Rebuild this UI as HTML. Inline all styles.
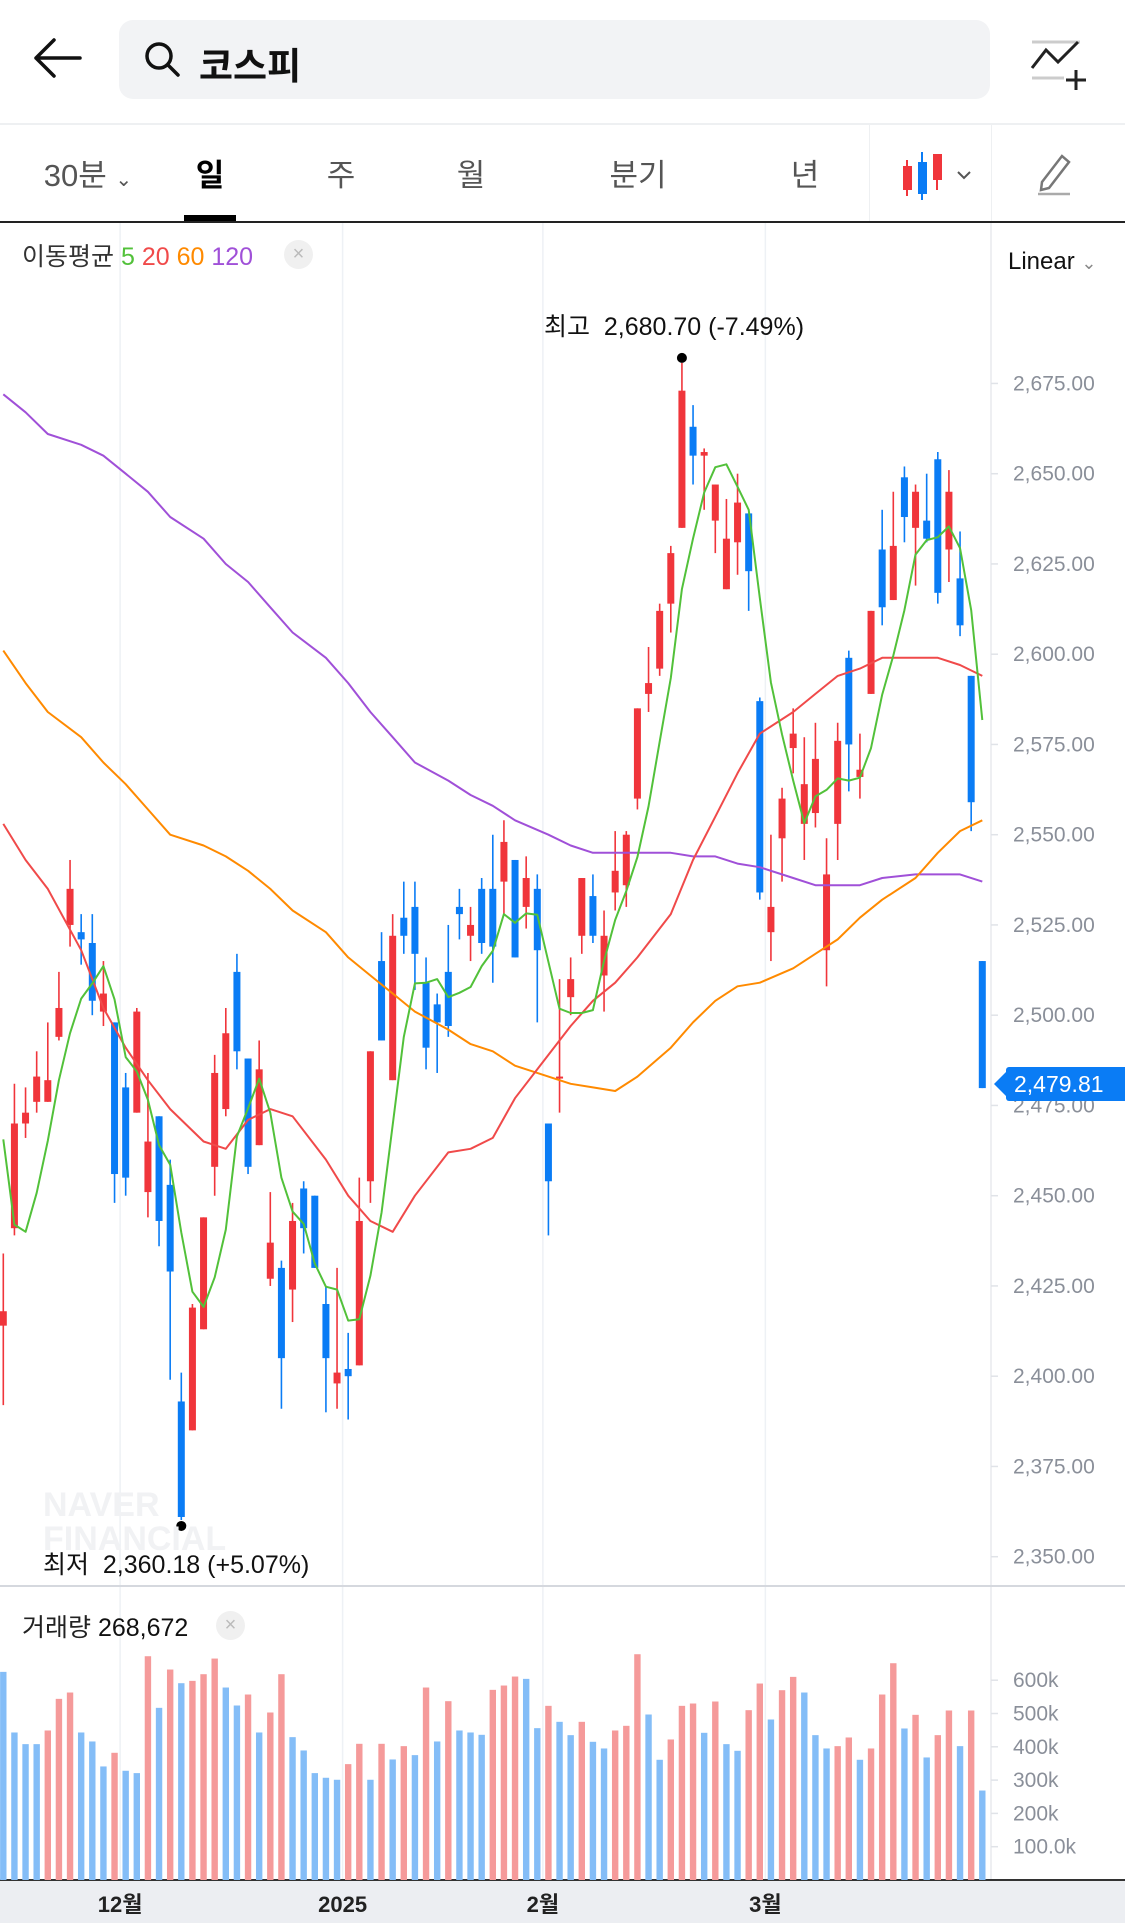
<!DOCTYPE html>
<html lang="ko"><head><meta charset="utf-8">
<style>
*{margin:0;padding:0;box-sizing:border-box}
body{width:1125px;height:1923px;background:#fff;font-family:"Liberation Sans","Noto Sans CJK KR",sans-serif;position:relative;overflow:hidden;color:#111}
.abs{position:absolute}
.tab{position:absolute;top:150px;font-size:31px;color:#555;transform:translateX(-50%)}
.ax{position:absolute;left:1013px;font-size:21px;color:#8a8f99}
</style></head><body>
<svg class="abs" style="left:30px;top:36px" width="56" height="44"><path d="M6 22H50M6 22L24 4M6 22L24 40" stroke="#111" stroke-width="3.5" fill="none" stroke-linecap="round"/></svg>
<div class="abs" style="left:119px;top:20px;width:871px;height:79px;background:#f2f3f5;border-radius:14px">
 <svg class="abs" style="left:24px;top:20px" width="40" height="40"><circle cx="16" cy="16" r="12" stroke="#111" stroke-width="3.5" fill="none"/><path d="M25 25L35 35" stroke="#111" stroke-width="3.5" stroke-linecap="round"/></svg>
 <div class="abs" style="left:80px;top:16px;font-size:37px;font-weight:bold">코스피</div>
</div>
<svg class="abs" style="left:1028px;top:36px" width="60" height="54"><path d="M4 6H52" stroke="#ccc" stroke-width="3"/><path d="M4 32L18 14L30 26L50 6" stroke="#222" stroke-width="3" fill="none"/><path d="M4 42H36" stroke="#ccc" stroke-width="3"/><path d="M48 34V54M38 44H58" stroke="#222" stroke-width="3"/></svg>
<div class="abs" style="left:0;top:123px;width:1125px;height:2px;background:#eef0f2"></div>
<div class="tab" style="left:88px">30분 <span style="font-size:20px">⌄</span></div>
<div class="tab" style="left:210px;color:#000;font-weight:bold">일</div>
<div class="abs" style="left:184px;top:215px;width:52px;height:7px;background:#000"></div>
<div class="tab" style="left:341px">주</div>
<div class="tab" style="left:471px">월</div>
<div class="tab" style="left:638px">분기</div>
<div class="tab" style="left:805px">년</div>
<div class="abs" style="left:869px;top:125px;width:1px;height:97px;background:#eef0f2"></div>
<div class="abs" style="left:991px;top:125px;width:1px;height:97px;background:#eef0f2"></div>
<svg class="abs" style="left:900px;top:150px" width="80" height="52"><path d="M7 10V46M22 2V50M37 8V40" stroke-width="2" stroke="#f0353b"/><path d="M22 2V50" stroke="#0a7cf5" stroke-width="2"/><rect x="3" y="16" width="9" height="24" fill="#f0353b"/><rect x="18" y="12" width="9" height="32" fill="#0a7cf5"/><rect x="33" y="4" width="9" height="26" fill="#f0353b"/><path d="M58 22L64 28L70 22" stroke="#555" stroke-width="2" fill="none"/></svg>
<svg class="abs" style="left:1034px;top:150px" width="40" height="46"><path d="M8 32L28 6L35 12L15 38L7 40Z" stroke="#777" stroke-width="2.5" fill="none"/><path d="M4 44H36" stroke="#aaa" stroke-width="2.5"/></svg>
<div class="abs" style="left:0;top:221px;width:1125px;height:2px;background:#222"></div>

<div class="abs" style="left:22px;top:237px;font-size:25px;color:#333">이동평균 <span style="color:#52c13a">5</span> <span style="color:#f04a4a">20</span> <span style="color:#ff8a00">60</span> <span style="color:#a050d8">120</span></div>
<div class="abs" style="left:284px;top:240px;width:29px;height:29px;border-radius:50%;background:#f0f0f0;color:#bbb;font-size:20px;text-align:center;line-height:29px">×</div>
<div class="abs" style="left:1008px;top:248px;font-size:24px;color:#111">Linear <span style="color:#888;font-size:18px">⌄</span></div>

<svg id="chart" class="abs" style="left:0;top:0" width="1125" height="1923"></svg>

<div class="abs" style="left:544px;top:307px;font-size:25px">최고&nbsp; 2,680.70 (-7.49%)</div>
<div class="abs" style="left:43px;top:1545px;font-size:25px">최저&nbsp; 2,360.18 (+5.07%)</div>
<div class="abs" style="left:43px;top:1488px;font-size:34px;font-weight:bold;color:#f1f2f4;line-height:34px">NAVER<br>FINANCIAL</div>
<div class="abs" style="left:22px;top:1608px;font-size:25px;color:#222">거래량 <span style="color:#111">268,672</span></div>
<div class="abs" style="left:216px;top:1611px;width:29px;height:29px;border-radius:50%;background:#f0f0f0;color:#bbb;font-size:20px;text-align:center;line-height:29px">×</div>
<div class="abs" style="left:1006px;top:1067px;width:119px;height:34px;background:#0a7cf5;color:#fff;font-size:23px;line-height:34px;padding-left:8px;border-radius:3px 0 0 3px">2,479.81</div>
<div class="abs" style="left:994px;top:1072px;width:0;height:0;border-top:12px solid transparent;border-bottom:12px solid transparent;border-right:12px solid #0a7cf5"></div>

<script>
const opens=[2414,2441,2470,2476,2476,2494,2525,2523,2520,2501,2498,2480,2473,2451,2472,2453,2393,2385,2413,2458,2474,2512,2488,2464,2427,2430,2424,2452,2450,2420,2398,2402,2403,2454,2515,2482,2527,2530,2509,2503,2512,2530,2522,2535,2535,2537,2543,2530,2535,2470,2482.6,2505,2522,2533,2511,2534,2536,2560,2589,2596,2614,2635,2663,2655,2637,2618,2631,2639,2587,2523,2549,2574,2553,2556,2518,2553,2599,2566,2589,2629,2615,2649,2635,2637,2654,2629,2621,2594,2515];
const highs=[2434,2481,2480,2490,2498,2512,2543,2528,2528,2515,2498,2484,2502,2484,2472,2460,2401,2420,2444,2489,2502,2517,2488,2493,2451,2432,2448,2454,2450,2425,2430,2412,2455,2490,2523,2528,2537,2537,2516,2506,2525,2535,2530,2538,2550,2554,2543,2544,2539,2470,2510,2516,2538,2539,2529,2551,2551,2585,2602,2614,2630,2680.7,2669,2657,2647,2643,2650,2639,2588,2550,2563,2585,2577,2581,2549,2581,2601,2578,2612,2640,2645,2652,2647,2650,2656,2651,2634,2594,2515];
const lows=[2392,2439,2466,2473,2476,2493,2519,2514,2500,2497,2448,2450,2473,2444,2436,2399,2360.18,2385,2413,2450,2472,2485,2456,2464,2425,2391,2415,2434,2430,2390,2391,2388,2403,2448,2493,2482,2517,2507,2485,2484,2494,2521,2515,2517,2509,2528,2516,2524,2498,2439,2473,2500,2517,2520,2501,2529,2530,2557,2584,2594,2606,2635,2647,2640,2628,2618,2622,2612,2532,2515,2537,2567,2543,2552,2508,2543,2562,2560,2589,2608,2615,2631,2619,2631,2614,2620,2605,2551,2479.81];
const closes=[2418,2470,2473,2483,2482,2502,2535,2521,2504,2506,2456,2455,2501,2465,2443,2429,2361,2419,2444,2484,2495,2490,2458,2485,2437,2405,2443,2441,2430,2405,2401,2400,2443,2490,2493,2522,2522,2517,2491,2498,2497,2528,2525,2520,2519,2548,2516,2538,2518,2454,2483,2510,2538,2522,2522,2540,2550,2585,2592,2612,2628,2673,2655,2656,2647,2632,2642,2623,2534,2530,2560,2578,2564,2571,2539,2576,2575,2568,2612,2613,2630,2638,2645,2632,2617,2645,2608,2559,2479.81];
const priorCloses=[2588,2483,2429,2410];
const volumes=[625,443,408,408,449,544,563,443,416,341,382,328,321,672,517,632,591,598,618,665,578,524,557,443,503,618,429,389,321,307,301,348,409,301,409,362,402,375,578,416,537,449,443,436,571,584,611,604,456,523,475,435,475,415,395,449,463,678,497,361,422,523,530,442,536,408,388,510,590,482,570,610,563,435,395,402,428,361,395,557,651,455,496,368,435,509,402,509,268.672];
const volUp=[0,0,0,0,1,1,1,0,0,0,1,0,0,1,0,1,0,1,1,1,0,0,1,0,1,1,0,0,0,0,0,1,1,0,1,0,1,0,1,0,1,0,0,0,1,1,1,0,0,1,0,0,1,0,0,1,1,1,0,0,1,1,1,0,1,0,0,1,1,0,1,1,0,0,0,1,1,0,1,1,1,0,1,0,1,1,0,1,0];
const maIdx=[0,2,4,7,9,11,13,15,18,20,22,24,26,29,31,33,35,37,40,42,44,46,49,51,53,55,57,60,62,64,66,68,71,73,75,77,79,82,84,86,88];
const ma20=[2553,2543,2535,2518,2502,2491,2482,2474,2465,2463,2471,2474,2472,2460,2450,2443,2440,2450,2462,2463,2466,2477,2489,2497,2504,2509,2516,2528,2543,2555,2567,2578,2584,2589,2594,2596,2599,2599,2599,2597,2594];
const ma60=[2601,2592,2584,2577,2570,2564,2557,2550,2547,2544,2540,2535,2529,2523,2516,2511,2506,2501,2496,2492,2490,2486,2483,2481,2480,2479,2483,2491,2498,2504,2508,2509,2513,2517,2521,2527,2532,2538,2545,2551,2554];
const ma120=[2672,2667,2661,2658,2655,2650,2645,2638,2632,2625,2620,2613,2606,2599,2592,2584,2577,2570,2565,2561,2558,2554,2550,2547,2545,2545,2545,2545,2544,2544,2542,2541,2538,2536,2536,2536,2538,2539,2539,2539,2537];
const priceTicks=[2350,2375,2400,2425,2450,2475,2500,2525,2550,2575,2600,2625,2650,2675];
const volTicks=[100,200,300,400,500,600];
const volTickLabels=["100.0k","200k","300k","400k","500k","600k"];
const monthIdx=[10.5,30.5,48.5,68.5];
const monthLabels=["12월","2025","2월","3월"];

const NS="http://www.w3.org/2000/svg";
const svg=document.getElementById('chart');
const xOf=i=>3.3+i*11.125;
const yOf=p=>834.7+(2550-p)*3.61;
const vY=v=>1880-v/100*33.3;
function mk(tag,attrs,parent){const e=document.createElementNS(NS,tag);for(const k in attrs)e.setAttribute(k,attrs[k]);(parent||svg).appendChild(e);return e;}
// frame
mk('rect',{x:0,y:1880,width:1125,height:43,fill:'#eceef2'});
monthIdx.forEach((m,k)=>{
  const g=mk('line',{x1:xOf(m),x2:xOf(m),y1:223,y2:1880,stroke:'#eef1f5','stroke-width':1.5});
  
  
  const t=mk('text',{x:xOf(m),y:1912,'text-anchor':'middle','font-size':22,fill:'#222','font-weight':'bold'});
  t.textContent=monthLabels[k];
  
  
});
mk('line',{x1:991,x2:991,y1:223,y2:1880,stroke:'#e8eaee','stroke-width':1.5});
mk('line',{x1:0,x2:1125,y1:1586,y2:1586,stroke:'#d5d8de','stroke-width':2});
mk('line',{x1:0,x2:1125,y1:1880,y2:1880,stroke:'#333','stroke-width':2});
priceTicks.forEach(p=>{
  mk('line',{x1:991,x2:998,y1:yOf(p),y2:yOf(p),stroke:'#e0e3e8','stroke-width':1.5});
  const t=mk('text',{x:1013,y:yOf(p)+7,'font-size':21,fill:'#8a8f99'});
  t.textContent=p.toLocaleString('en-US',{minimumFractionDigits:2});
  
  
});
volTicks.forEach((v,k)=>{
  mk('line',{x1:991,x2:998,y1:vY(v),y2:vY(v),stroke:'#e0e3e8','stroke-width':1.5});
  const t=mk('text',{x:1013,y:vY(v)+7,'font-size':21,fill:'#8a8f99'});
  t.textContent=volTickLabels[k];
  
  
});
// volume bars
volumes.forEach((v,i)=>{
  const r=mk('rect',{x:xOf(i)-3.2,y:vY(v),width:6.4,height:1880-vY(v),fill:volUp[i]?'#f59a9a':'#84bdf7'});
  
  
});
// candles
opens.forEach((o,i)=>{
  const c=closes[i],up=c>=o,col=up?'#f0353b':'#0a7cf5',x=xOf(i);
  const g=mk('g',{});
  
  
  mk('line',{x1:x,x2:x,y1:yOf(highs[i]),y2:yOf(lows[i]),stroke:col,'stroke-width':1.6},g);
  const t=yOf(Math.max(o,c)),b=yOf(Math.min(o,c));
  mk('rect',{x:x-3.5,y:t,width:7,height:Math.max(2,b-t),fill:col},g);
});
// MA lines
function line(idx,vals,col,name){
  const d=vals.map((v,k)=>(k?'L':'M')+xOf(idx[k]).toFixed(1)+' '+yOf(v).toFixed(1)).join('');
  const p=mk('path',{d:d,stroke:col,'stroke-width':2,fill:'none','stroke-linejoin':'round'});
  
  
}
line(maIdx,ma120,'#a050d8','ma120-line');
line(maIdx,ma60,'#ff8a00','ma60-line');
line(maIdx,ma20,'#f04a4a','ma20-line');
const all=priorCloses.concat(closes),ma5=[],ma5Idx=[];
closes.forEach((c,i)=>{let s=0;for(let k=0;k<5;k++)s+=all[i+4-k];ma5.push(s/5);ma5Idx.push(i);});
line(ma5Idx,ma5,'#52c13a','ma5-line');
// high / low markers
let hi=0,lo=0;highs.forEach((h,i)=>{if(h>highs[hi])hi=i;});lows.forEach((l,i)=>{if(l<lows[lo])lo=i;});
const hd=mk('circle',{cx:xOf(hi),cy:yOf(highs[hi])-5,r:5,fill:'#000'});


const ld=mk('circle',{cx:xOf(lo),cy:yOf(lows[lo])+6,r:5,fill:'#000'});


</script>
</body></html>
